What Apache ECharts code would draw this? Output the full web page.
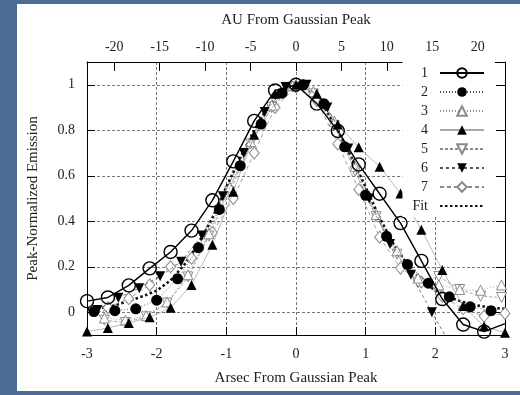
<!DOCTYPE html>
<html><head><meta charset="utf-8">
<script src="https://cdn.jsdelivr.net/npm/echarts@6/dist/echarts.min.js"></script>
<style>
html,body{margin:0;padding:0;width:520px;height:395px;background:#4b6c93;overflow:hidden;}
#chart{position:absolute;left:17px;top:4px;width:503px;height:387px;background:#fff;}
</style></head>
<body><div id="chart"></div>
<script>
// ---- data (arcsec from peak, peak-normalized emission) ----
const xTicks = [-3, -2, -1, 0, 1, 2, 3];
const yTicks = [0, 0.2, 0.4, 0.6, 0.8, 1];
const auTicks = [-20, -15, -10, -5, 0, 5, 10, 15, 20];
const seriesNames = ['1', '2', '3', '4', '5', '6', '7', 'Fit'];

const x1 = [-3.0,-2.7,-2.4,-2.1,-1.8,-1.5,-1.2,-0.9,-0.6,-0.3,0.0,0.3,0.6,0.9,1.2,1.5,1.8,2.1,2.4,2.7,3.0];
const y1 = [0.049,0.065,0.118,0.193,0.265,0.359,0.492,0.663,0.841,0.975,1.0,0.917,0.797,0.650,0.521,0.392,0.226,0.058,-0.054,-0.085,-0.05];

const x2 = [-2.9,-2.6,-2.3,-2.0,-1.7,-1.4,-1.1,-0.8,-0.5,-0.2,0.1,0.4,0.7,1.0,1.3,1.6,1.9,2.2,2.5,2.8];
const y2 = [0.003,0.007,0.015,0.053,0.147,0.284,0.452,0.644,0.827,0.963,1.0,0.917,0.727,0.514,0.334,0.21,0.128,0.068,0.024,0.007];

const x3 = [-2.75,-2.45,-2.15,-1.85,-1.55,-1.25,-0.95,-0.65,-0.35,-0.05,0.25,0.55,0.85,1.15,1.45,1.75,2.05,2.35,2.65,2.95];
const y3 = [-0.025,-0.035,-0.015,0.045,0.165,0.345,0.55,0.75,0.91,0.995,0.97,0.84,0.64,0.43,0.27,0.15,0.12,0.10,0.097,0.12];

const x4 = [-3.0,-2.7,-2.4,-2.1,-1.8,-1.5,-1.2,-0.9,-0.6,-0.3,0.0,0.3,0.6,0.9,1.2,1.5,1.8,2.1,2.4,2.7,3.0];
const y4 = [-0.085,-0.069,-0.047,-0.022,0.02,0.12,0.297,0.53,0.78,0.96,1.0,0.96,0.825,0.725,0.64,0.522,0.363,0.186,0.028,-0.062,-0.09];

const x5 = [-2.75,-2.45,-2.15,-1.85,-1.55,-1.25,-0.95,-0.65,-0.35,-0.05,0.25,0.55,0.85,1.15,1.45,1.75,2.05,2.35,2.65,2.95];
const y5 = [-0.035,-0.045,-0.02,0.04,0.155,0.335,0.53,0.74,0.9,0.99,0.96,0.82,0.62,0.42,0.255,0.13,0.157,0.1,0.07,0.065];

const x6 = [-2.85,-2.55,-2.25,-1.95,-1.65,-1.35,-1.05,-0.75,-0.45,-0.15,0.15,0.45,0.75,1.05,1.35,1.65,1.95,2.25];
const y6 = [0.01,0.064,0.106,0.158,0.222,0.337,0.51,0.70,0.88,0.99,1.0,0.90,0.72,0.50,0.30,0.165,0.0,-0.16];

const x7 = [-2.7,-2.4,-2.1,-1.8,-1.5,-1.2,-0.9,-0.6,-0.3,0.0,0.3,0.6,0.9,1.2,1.5,1.8,2.1,2.4,2.7,3.0];
const y7 = [0.02,0.06,0.12,0.2,0.238,0.35,0.5,0.7,0.9,0.99,0.93,0.74,0.54,0.33,0.194,0.133,0.07,0.015,-0.018,-0.005];

const xFit = [-3.0,-2.8,-2.6,-2.4,-2.2,-2.0,-1.8,-1.6,-1.4,-1.2,-1.0,-0.8,-0.6,-0.4,-0.2,0.0,0.2,0.4,0.6,0.8,1.0,1.2,1.4,1.6,1.8,2.0,2.2,2.4,2.6,2.8,3.0];
const yFit = [0.012,0.018,0.03,0.05,0.07,0.095,0.14,0.21,0.30,0.415,0.55,0.68,0.80,0.905,0.975,1.0,0.975,0.905,0.80,0.68,0.55,0.415,0.30,0.21,0.14,0.095,0.065,0.045,0.03,0.02,0.015];

// ---- chart ----
const FONT = 'Liberation Serif';
const pairs = (xs, ys) => xs.map((x, i) => [x, ys[i]]);
const chart = echarts.init(document.getElementById('chart'), null, {renderer: 'canvas'});

function mk(name, xs, ys, o) {
  return Object.assign({
    name: name, type: 'line', data: pairs(xs, ys), clip: true,
    xAxisIndex: 0, yAxisIndex: 0, animation: false
  }, o);
}
const gray = '#8a8a8a';
const series = [
  mk('Fit', xFit, yFit, {symbol: 'rect', symbolSize: 1, showSymbol: false, lineStyle: {color: '#111', width: 2.6, type: [2.5, 2.5]}, itemStyle: {color: 'rgba(0,0,0,0)', borderWidth: 0}, z: 1}),
  mk('7', x7, y7, {symbol: 'diamond', symbolSize: [10, 12], itemStyle: {color: '#fff', borderColor: gray, borderWidth: 1}, lineStyle: {color: gray, width: 0.8, type: [4, 3]}, z: 2}),
  mk('5', x5, y5, {symbol: 'triangle', symbolRotate: 180, symbolSize: 10, itemStyle: {color: '#fff', borderColor: gray, borderWidth: 1}, lineStyle: {color: gray, width: 0.8, type: [3, 2]}, z: 2}),
  mk('3', x3, y3, {symbol: 'triangle', symbolSize: 10, itemStyle: {color: '#fff', borderColor: gray, borderWidth: 1}, lineStyle: {color: gray, width: 0.8, type: [1, 2]}, z: 2}),
  mk('4', x4, y4, {symbol: 'triangle', symbolSize: 10, itemStyle: {color: '#000'}, lineStyle: {color: '#a8a8a8', width: 0.8, type: 'solid'}, z: 3}),
  mk('6', x6, y6, {symbol: 'triangle', symbolRotate: 180, symbolSize: 10, itemStyle: {color: '#000'}, lineStyle: {color: '#555', width: 0.8, type: [3, 3]}, z: 3}),
  mk('2', x2, y2, {symbol: 'circle', symbolSize: 11, itemStyle: {color: '#000'}, lineStyle: {color: '#444', width: 0.8, type: [1, 2]}, z: 4}),
  mk('1', x1, y1, {symbol: 'circle', symbolSize: 13, itemStyle: {color: 'rgba(255,255,255,0)', borderColor: '#000', borderWidth: 1.4}, lineStyle: {color: '#000', width: 1.4}, z: 5})
];
// hide the marker of the clipped last point of series 1
const s1 = series[7].data;
s1[s1.length - 1] = {value: s1[s1.length - 1], symbol: 'none'};

const axisText = {fontFamily: FONT, fontSize: 14, color: '#222'};
const gridLine = {show: true, lineStyle: {color: '#777', width: 1, type: [3, 2]}};
const option = {
  animation: false,
  textStyle: {fontFamily: FONT},
  grid: {left: 70, right: 15, top: 58, bottom: 53, containLabel: false},
  legend: {
    data: seriesNames,
    orient: 'vertical', align: 'right',
    right: 25, top: 58,
    itemWidth: 44, itemHeight: 12, itemGap: 5,
    padding: [4, 10, 4, 10],
    backgroundColor: '#fff',
    textStyle: {fontFamily: FONT, fontSize: 14, color: '#222', padding: [0, 7, 0, 0]},
    selectedMode: false, z: 10
  },
  xAxis: [{
    type: 'value', min: -3, max: 3, interval: 1, position: 'bottom',
    name: 'Arsec From Gaussian Peak', nameLocation: 'middle', nameGap: 36,
    nameTextStyle: {fontFamily: FONT, fontSize: 15, color: '#222'},
    axisLine: {show: true, onZero: false, lineStyle: {color: '#000', width: 1}},
    axisTick: {show: true, inside: true, length: 8, lineStyle: {color: '#000'}},
    axisLabel: Object.assign({margin: 12, formatter: v => String(v)}, axisText),
    splitLine: gridLine
  }, {
    type: 'value', min: -23, max: 23, position: 'top',
    name: 'AU From Gaussian Peak', nameLocation: 'middle', nameGap: 34,
    nameTextStyle: {fontFamily: FONT, fontSize: 15, color: '#222'},
    axisLine: {show: true, onZero: false, lineStyle: {color: '#000', width: 1}},
    axisTick: {show: true, inside: true, length: 9, customValues: auTicks, lineStyle: {color: '#000'}},
    axisLabel: Object.assign({margin: 8, customValues: auTicks, formatter: v => String(v)}, axisText),
    splitLine: {show: false}
  }],
  yAxis: [{
    type: 'value', min: -0.1, max: 1.1, position: 'left',
    name: 'Peak-Normalized Emission', nameLocation: 'middle', nameGap: 46,
    nameTextStyle: {fontFamily: FONT, fontSize: 15, color: '#222'},
    axisLine: {show: true, onZero: false, lineStyle: {color: '#000', width: 1}},
    axisTick: {show: true, inside: true, length: 8, customValues: yTicks, lineStyle: {color: '#000'}},
    axisLabel: Object.assign({margin: 12, customValues: yTicks, formatter: v => String(v)}, axisText),
    splitLine: gridLine
  }, {
    type: 'value', min: -0.1, max: 1.1, position: 'right',
    axisLine: {show: true, onZero: false, lineStyle: {color: '#000', width: 1}},
    axisTick: {show: true, inside: true, length: 9, customValues: yTicks, lineStyle: {color: '#000'}},
    axisLabel: {show: false},
    splitLine: {show: false}
  }],
  series: series
};
chart.setOption(option);
</script>
</body></html>
